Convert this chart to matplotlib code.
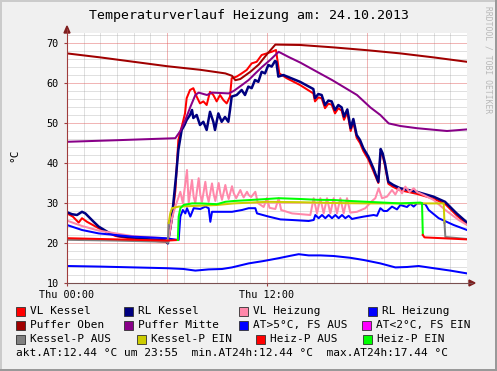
import numpy as np
import matplotlib
matplotlib.use("Agg")
import matplotlib.pyplot as plt
from matplotlib.patches import Rectangle, Polygon
from matplotlib.lines import Line2D

plt.rcParams['font.family'] = ['DejaVu Sans Mono', 'DejaVu Sans']

# Zeit in Stunden ab Do 00:00
vlk_h = [0.0, 0.35, 0.7, 0.9, 1.2, 1.9, 2.9, 4.0, 5.0, 5.9, 6.05, 6.3, 6.5, 6.68, 6.88, 7.08, 7.18,
         7.38, 7.58, 7.78, 7.98, 8.18, 8.38, 8.58, 8.78, 8.98, 9.18, 9.38, 9.58, 9.78, 9.88, 10.18,
         10.48, 10.78, 11.08, 11.38, 11.68, 11.98, 12.28, 12.54, 12.74, 13.18, 13.98, 14.78, 14.88,
         15.08, 15.28, 15.48, 15.68, 15.88, 16.08, 16.28, 16.48, 16.62, 16.82, 17.02, 17.18, 17.38,
         17.58, 17.78, 18.08, 18.38, 18.68, 18.82, 18.94, 19.08, 19.28, 19.58, 19.98, 20.98, 21.98,
         22.68, 23.38, 23.98]
vlk_v = [27.4, 26.6, 25.1, 26.2, 25.3, 23.7, 21.75, 21.0, 20.6, 20.3, 20.0, 26.0, 33.0, 45.75, 49.0,
         52.4, 56.2, 58.25, 58.7, 56.6, 54.9, 55.4, 54.5, 57.8, 57.0, 55.4, 57.0, 55.75, 54.9, 56.6,
         61.2, 61.6, 62.4, 63.25, 64.9, 65.3, 67.0, 67.4, 67.8, 68.25, 62.4, 61.2, 59.5, 57.4, 55.4,
         56.4, 56.2, 53.7, 54.8, 54.6, 52.4, 53.7, 53.1, 50.8, 52.6, 48.0, 50.2, 46.3, 45.0, 43.0,
         40.9, 38.0, 35.0, 42.6, 41.8, 39.3, 34.8, 34.0, 33.2, 32.3, 31.1, 29.8, 26.9, 24.75]

rlk_h = [0.0, 0.3, 0.6, 0.9, 1.1, 1.6, 1.9, 2.5, 3.1, 3.9, 5.0, 5.9, 6.05, 6.3, 6.54, 6.68, 6.88,
         7.05, 7.18, 7.38, 7.5, 7.58, 7.78, 7.98, 8.18, 8.38, 8.58, 8.78, 8.88, 9.08, 9.28, 9.48,
         9.68, 9.78, 9.88, 10.18, 10.48, 10.68, 10.88, 11.08, 11.28, 11.48, 11.68, 11.88, 12.08,
         12.28, 12.48, 12.56, 12.68, 12.98, 13.98, 14.78, 14.88, 15.08, 15.28, 15.48, 15.68, 15.88,
         16.08, 16.28, 16.48, 16.62, 16.82, 17.02, 17.18, 17.38, 17.58, 17.78, 18.08, 18.38, 18.68,
         18.82, 18.94, 19.08, 19.28, 19.58, 19.98, 20.98, 21.98, 22.68, 23.38, 23.98]
rlk_v = [27.7, 27.2, 27.0, 27.8, 27.4, 25.3, 24.1, 22.6, 21.75, 21.4, 21.0, 20.75, 19.9, 26.6, 36.6,
         43.25, 48.25, 49.5, 50.75, 52.0, 53.25, 51.25, 52.0, 49.5, 50.3, 48.25, 52.8, 50.3, 48.25,
         52.4, 50.3, 51.5, 50.3, 53.25, 56.6, 57.0, 58.25, 57.0, 59.1, 58.7, 60.75, 60.3, 62.8, 62.4,
         64.5, 64.1, 65.5, 65.3, 61.6, 62.0, 60.3, 58.5, 56.2, 57.25, 57.0, 54.5, 55.6, 55.4, 53.25,
         54.5, 53.9, 51.6, 53.4, 48.7, 51.0, 47.0, 45.75, 43.7, 41.6, 38.7, 35.3, 43.5, 42.4, 39.9,
         35.3, 34.5, 33.7, 32.8, 31.6, 30.3, 27.4, 25.2]

vlh_h = [0.0, 0.9, 1.9, 3.9, 5.9, 6.1, 6.3, 6.5, 6.8, 6.95, 7.2, 7.3, 7.5, 7.6, 7.7, 7.9, 8.0, 8.1,
         8.3, 8.4, 8.5, 8.7, 8.8, 8.9, 9.1, 9.2, 9.3, 9.5, 9.6, 9.7, 9.9, 10.0, 10.15, 10.4, 10.5,
         10.6, 10.8, 10.9, 11.05, 11.3, 11.45, 11.8, 12.0, 12.15, 12.5, 12.7, 12.85, 13.5, 14.6,
         14.8, 15.0, 15.2, 15.4, 15.6, 15.8, 16.0, 16.2, 16.4, 16.6, 16.8, 17.0, 17.4, 17.9, 18.3,
         18.5, 18.7, 18.9, 19.2, 19.5, 19.7, 19.9, 20.1, 20.3, 20.55, 20.8, 21.0, 21.4, 22.0, 22.7,
         23.5, 24.0]
vlh_v = [25.6, 24.25, 23.1, 21.75, 21.2, 21.0, 26.25, 29.1, 32.8, 30.0, 38.25, 30.0, 35.75, 31.5,
         30.0, 36.2, 32.0, 30.3, 35.3, 32.0, 30.3, 34.9, 32.2, 30.5, 35.0, 32.4, 30.8, 34.5, 32.5,
         31.0, 34.2, 32.5, 31.2, 33.25, 32.2, 31.4, 32.8, 32.0, 31.5, 32.8, 30.0, 29.0, 31.25, 28.8,
         28.5, 31.2, 28.25, 27.4, 27.0, 31.2, 27.4, 31.2, 27.4, 31.2, 27.4, 31.2, 27.4, 31.2, 27.4,
         31.2, 27.6, 27.8, 28.7, 30.5, 31.2, 33.7, 31.2, 31.6, 33.25, 32.1, 33.7, 32.4, 34.1, 32.75,
         33.7, 32.75, 32.0, 30.75, 28.25, 25.75, 24.5]

rlh_h = [0.0, 0.9, 1.9, 3.9, 5.9, 6.7, 6.8, 6.95, 7.1, 7.2, 7.4, 7.6, 8.0, 8.3, 8.5, 8.6, 8.7, 8.9,
         9.5, 9.9, 10.5, 10.9, 11.3, 11.4, 12.1, 12.8, 13.5, 14.5, 14.8, 14.9, 15.1, 15.3, 15.5,
         15.7, 15.9, 16.1, 16.3, 16.5, 16.7, 16.9, 17.1, 17.3, 17.8, 18.4, 18.6, 18.8, 19.0, 19.2,
         19.5, 19.8, 20.0, 20.4, 20.6, 20.8, 21.0, 21.2, 21.5, 21.7, 22.3, 23.2, 24.0]
rlh_v = [24.5, 23.25, 22.4, 21.6, 21.2, 20.75, 26.6, 28.25, 27.4, 28.7, 26.6, 28.7, 28.5, 29.1,
         28.7, 25.3, 27.8, 27.8, 27.8, 27.8, 28.25, 28.7, 28.7, 27.4, 26.6, 25.9, 25.75, 25.5,
         25.75, 27.0, 26.2, 27.0, 26.2, 27.0, 26.2, 27.0, 26.2, 27.0, 26.2, 26.8, 26.0, 26.2, 26.6,
         27.0, 26.8, 28.7, 28.0, 28.0, 29.1, 28.4, 29.5, 29.0, 29.8, 29.1, 29.9, 29.9, 29.7, 28.25,
         26.2, 24.5, 23.25]

po_h = [0.0, 2.0, 4.0, 6.0, 8.0, 9.5, 9.9, 10.1, 10.4, 11.0, 11.5, 12.0, 12.5, 14.0, 16.0, 18.0,
        20.0, 22.0, 24.0]
po_v = [67.4, 66.4, 65.3, 64.2, 63.3, 62.4, 61.8, 60.7, 61.0, 62.8, 64.6, 67.2, 69.6, 69.5, 68.9,
        68.2, 67.4, 66.4, 65.3]

pm_h = [0.0, 3.0, 6.5, 6.8, 7.1, 7.4, 7.7, 7.9, 8.4, 8.7, 9.2, 9.7, 10.0, 10.5, 10.9, 11.3, 11.7,
        12.2, 12.7, 13.3, 14.0, 15.0, 15.9, 16.6, 17.4, 18.2, 18.8, 19.3, 20.0, 21.0, 22.8, 24.0]
pm_v = [45.3, 45.7, 46.2, 48.0, 50.75, 54.0, 57.0, 57.6, 57.0, 57.6, 57.5, 57.4, 58.0, 59.5,
        60.75, 62.4, 64.0, 65.8, 67.8, 66.5, 65.1, 62.8, 60.75, 59.0, 57.0, 53.9, 52.0, 49.9, 49.25,
        48.7, 48.0, 48.4]

at_h = [0.0, 2.0, 4.0, 6.0, 7.0, 7.7, 8.5, 9.3, 9.9, 10.9, 11.8, 12.7, 13.4, 13.9, 14.5, 15.2,
        16.0, 17.0, 17.8, 18.8, 19.7, 20.4, 21.1, 22.0, 23.0, 24.0]
at_v = [14.25, 14.1, 13.9, 13.7, 13.5, 13.1, 13.4, 13.5, 13.9, 14.9, 15.5, 16.2, 16.8, 17.2, 16.9,
        16.9, 16.75, 16.3, 15.75, 14.9, 13.9, 14.0, 14.25, 13.7, 13.1, 12.4]

# Pumpenstatus (0 = AUS, 1 = EIN)
kp_h = [0.0, 3.0, 6.0, 6.05, 6.1, 6.2, 6.3, 6.7, 7.5, 9.0, 10.0, 12.0, 14.0, 16.0, 18.0, 20.0,
        22.0, 22.6, 22.65, 22.7, 24.0]
kp_v = [20.8, 20.6, 20.3, 20.0, 25.0, 27.5, 28.7, 29.1, 29.25, 29.5, 29.9, 30.3, 30.2, 30.0,
        29.9, 29.9, 29.9, 29.9, 25.0, 21.5, 21.0]
kp_on = [0, 0, 0, 0, 0, 1, 1, 1, 1, 1, 1, 1, 1, 1, 1, 1, 1, 1, 1, 0, 0]

hp_h = [0.0, 3.0, 6.0, 6.65, 6.7, 6.8, 7.0, 7.5, 8.0, 9.0, 9.5, 10.0, 11.0, 12.0, 12.7, 14.0,
        15.0, 16.0, 17.0, 18.0, 19.0, 20.0, 21.2, 21.3, 21.35, 21.45, 22.5, 24.0]
hp_v = [21.2, 20.9, 20.6, 20.75, 26.6, 28.7, 29.5, 29.9, 29.9, 29.7, 30.3, 30.5, 30.75, 31.0,
        31.2, 31.0, 30.8, 30.75, 30.5, 30.3, 30.1, 29.9, 30.1, 30.0, 22.0, 21.4, 21.2, 20.9]
hp_on = [0, 0, 0, 0, 1, 1, 1, 1, 1, 1, 1, 1, 1, 1, 1, 1, 1, 1, 1, 1, 1, 1, 1, 1, 1, 0, 0, 0]

legend_rows = [
    [("VL Kessel", "#ff0000"), ("RL Kessel", "#000080"), ("VL Heizung", "#ff88aa"), ("RL Heizung", "#0000ff")],
    [("Puffer Oben", "#a00000"), ("Puffer Mitte", "#880088"), ("AT>5°C, FS AUS", "#0000ff"), ("AT<2°C, FS EIN", "#ff00ff")],
    [("Kessel-P AUS", "#808080"), ("Kessel-P EIN", "#cccc00"), ("Heiz-P AUS", "#ff0000"), ("Heiz-P EIN", "#00ff00")],
]
legend_x = [[16, 124, 239, 368], [16, 124, 239, 362], [16, 137, 256, 363]]
info = "akt.AT:12.44 °C um 23:55  min.AT24h:12.44 °C  max.AT24h:17.44 °C"

W, H = 497, 371
fig = plt.figure(figsize=(W / 100, H / 100), dpi=100, facecolor='#f0f0f0')


def fx(x):
    return x / W


def fy(y):
    return 1 - y / H


ax = fig.add_axes([fx(67), fy(283), 400 / W, 250 / H])
ax.set_xlim(0, 24)
ax.set_ylim(10, 72.5)
ax.set_facecolor('white')
for s in ax.spines.values():
    s.set_visible(False)

# Raster
for v in range(12, 73, 2):
    if v % 10:
        ax.axhline(v, color='#8f8f8f', alpha=0.27, lw=0.72, zorder=0)
for h in range(1, 25):
    if h % 6:
        ax.axvline(h, color='#8f8f8f', alpha=0.27, lw=0.72, zorder=0)
for v in range(20, 71, 10):
    ax.axhline(v, color='#de5050', alpha=0.42, lw=0.72, zorder=0)
for h in range(6, 25, 6):
    ax.axvline(h, color='#de5050', alpha=0.42, lw=0.72, zorder=0)

ax.set_yticks(range(10, 71, 10))
ax.set_yticklabels([str(v) for v in range(10, 71, 10)], fontsize=7.3)
ax.set_xticks([0, 12])
ax.set_xticklabels(["Thu 00:00", "Thu 12:00"], fontsize=7.3)
ax.tick_params(axis='y', length=2, pad=4, color='#a03c3c')
ax.tick_params(axis='x', length=2, pad=3, color='#a03c3c')

lw = 1.45
ax.plot(vlk_h, vlk_v, color='#ff0000', lw=lw)
ax.plot(rlk_h, rlk_v, color='#000080', lw=1.8)
ax.plot(vlh_h, vlh_v, color='#ff88aa', lw=lw)
ax.plot(rlh_h, rlh_v, color='#0000ff', lw=lw)
ax.plot(po_h, po_v, color='#a00000', lw=lw)
ax.plot(pm_h, pm_v, color='#880088', lw=lw)
ax.plot(at_h, at_v, color='#0000ff', lw=lw)


def status_line(hs, vs, on, c_off, c_on):
    # Segment-Farbe nach Status am Segmentende
    i = 0
    n = len(hs)
    while i < n - 1:
        st = on[i + 1]
        j = i + 1
        while j < n - 1 and on[j + 1] == st:
            j += 1
        ax.plot(hs[i:j + 1], vs[i:j + 1], color=c_on if st else c_off, lw=lw)
        i = j


status_line(kp_h, kp_v, kp_on, '#808080', '#cccc00')
status_line(hp_h, hp_v, hp_on, '#ff0000', '#00ff00')

# Achsen mit Pfeilen
fig.add_artist(Line2D([fx(67), fx(67)], [fy(283), fy(29)], color='#a03c3c', lw=0.8))
fig.add_artist(Line2D([fx(67), fx(472)], [fy(283), fy(283)], color='#7a5050', lw=0.8))
fig.add_artist(Polygon([(fx(64), fy(33)), (fx(70), fy(33)), (fx(67), fy(26))], closed=True,
                       color='#7f1f1f'))
fig.add_artist(Polygon([(fx(469), fy(280)), (fx(469), fy(286)), (fx(475), fy(283))], closed=True,
                       color='#7f1f1f'))

# Rahmen
fig.add_artist(Rectangle((0, fy(2)), 1, 2 / H, color='#cbcbcb', lw=0))
fig.add_artist(Rectangle((0, 0), 2 / W, 1, color='#cbcbcb', lw=0))
fig.add_artist(Rectangle((0, 0), 1, 2 / H, color='#999999', lw=0))
fig.add_artist(Rectangle((fx(495), 0), 2 / W, 1, color='#999999', lw=0))

fig.text(fx(249), fy(16), "Temperaturverlauf Heizung am: 24.10.2013", fontsize=9.5,
         ha='center', va='center')
fig.text(fx(14), fy(155), "°C", fontsize=8, rotation=90, ha='center', va='center')
fig.text(fx(488), fy(60), "RRDTOOL / TOBI OETIKER", fontsize=5.8, rotation=270,
         ha='center', va='center', color='#b8b8b8')

# Legende
row_y = [311, 325, 339]
for r, row in enumerate(legend_rows):
    for c, (lab, col) in enumerate(row):
        x0 = legend_x[r][c]
        fig.add_artist(Rectangle((fx(x0), fy(row_y[r] + 4.5)), 9 / W, 9 / H, facecolor=col,
                                 edgecolor='#303030', lw=0.6))
        fig.text(fx(x0 + 14), fy(row_y[r]), lab, fontsize=8, ha='left', va='center')
fig.text(fx(16), fy(353), info, fontsize=8, ha='left', va='center')

fig.savefig("out.png", dpi=100, facecolor=fig.get_facecolor())
